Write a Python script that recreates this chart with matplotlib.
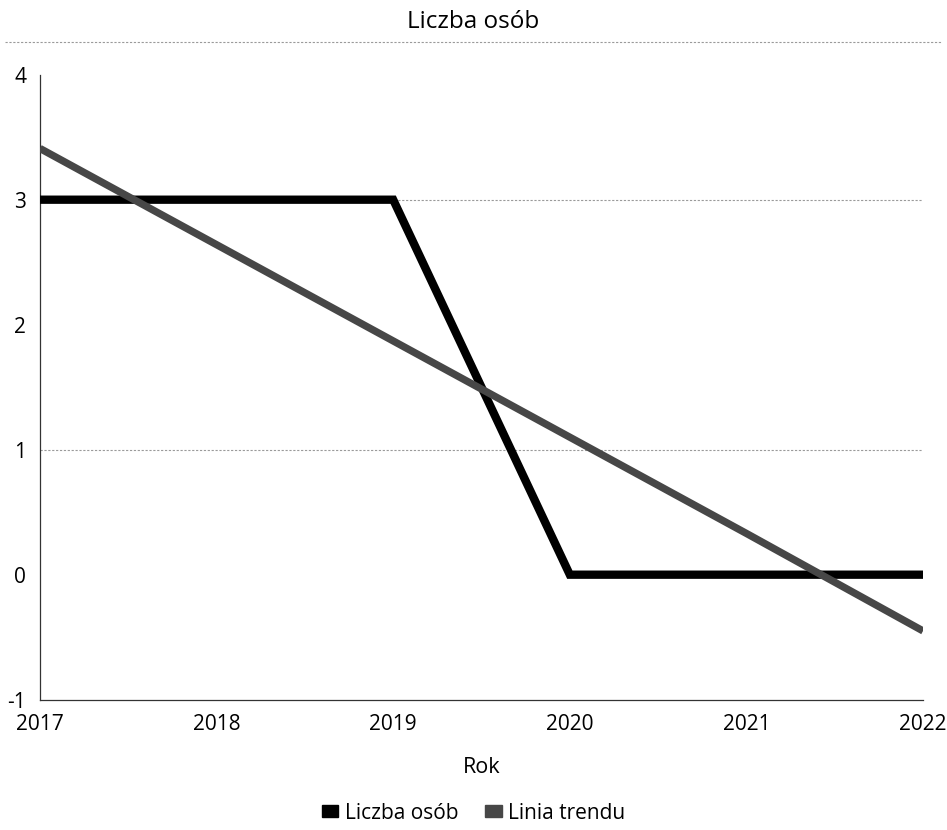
import matplotlib.pyplot as plt
from matplotlib.patches import Patch
from matplotlib.lines import Line2D

plt.rcParams['font.family'] = ['Open Sans', 'DejaVu Sans']
plt.rcParams['axes.unicode_minus'] = False

# dane
lata = [2017, 2018, 2019, 2020, 2021, 2022]
liczba_osob = [3, 3, 3, 0, 0, 0]
linia_trendu = [3.41, 2.64, 1.87, 1.10, 0.33, -0.45]
y_ticks = [-1, 0, 1, 2, 3, 4]

fig = plt.figure(figsize=(9.47, 8.3), dpi=100)
ax = fig.add_axes([0.0422, 0.157, 0.9325, 0.753])

ax.plot(lata, liczba_osob, color='black', linewidth=6, solid_joinstyle='miter',
        solid_capstyle='butt', zorder=3)
ax.plot(lata, linia_trendu, color='#474747', linewidth=5.3, solid_capstyle='butt', zorder=4)

ax.set_xlim(2017, 2022)
ax.set_ylim(-1, 4)
ax.set_xticks(lata)
ax.set_yticks(y_ticks)
ax.tick_params(axis='both', length=0, labelsize=15)
ax.tick_params(axis='y', pad=10)
ax.tick_params(axis='x', pad=10)

for t in [1, 3]:
    ax.axhline(t, color='#9a9a9a', linewidth=0.8, linestyle=(0, (2, 1.5)), zorder=1)

for s in ['top', 'right']:
    ax.spines[s].set_visible(False)
ax.spines['left'].set_color('#333333')
ax.spines['bottom'].set_color('#333333')
ax.spines['left'].set_linewidth(0.9)
ax.spines['bottom'].set_linewidth(0.9)

ax.set_xlabel('Rok', fontsize=15.5, labelpad=16)
fig.text(0.5, 1 - 22 / 830, 'Liczba osób', ha='center', va='center', fontsize=17.5)
fig.add_artist(Line2D([0.005, 0.995], [1 - 42 / 830, 1 - 42 / 830], color='#9a9a9a',
                      linewidth=0.8, linestyle=(0, (2, 1.5))))

handles = [Patch(color='black', label='Liczba osób'),
           Patch(color='#474747', label='Linia trendu')]
fig.legend(handles=handles, loc='center', bbox_to_anchor=(0.5, 1 - 813 / 830), ncol=2,
           frameon=False, fontsize=15, handlelength=0.8, handleheight=0.5,
           handletextpad=0.3, columnspacing=1.3)

fig.savefig('out.png', dpi=100)
